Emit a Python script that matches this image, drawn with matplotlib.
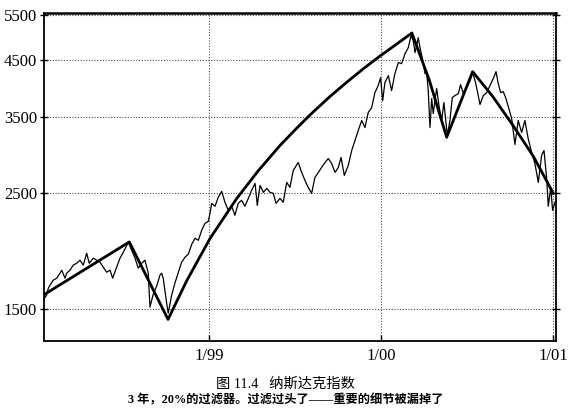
import matplotlib
matplotlib.use("Agg")
from matplotlib import pyplot as plt
from matplotlib.ticker import NullLocator, FixedLocator, FixedFormatter


# Nasdaq index, x in decimal years
index_years = [
    1998.041, 1998.053, 1998.063, 1998.073, 1998.092, 1998.112, 1998.131, 1998.141,
    1998.160, 1998.170, 1998.189, 1998.208, 1998.228, 1998.247, 1998.266, 1998.286,
    1998.301, 1998.324, 1998.344, 1998.363, 1998.383, 1998.402, 1998.422, 1998.437,
    1998.460, 1998.480, 1998.499, 1998.528, 1998.548, 1998.567, 1998.586, 1998.606,
    1998.625, 1998.644, 1998.654, 1998.673, 1998.693, 1998.712, 1998.722, 1998.731,
    1998.751, 1998.760, 1998.780, 1998.799, 1998.819, 1998.838, 1998.858, 1998.877,
    1998.897, 1998.916, 1998.935, 1998.955, 1998.974, 1998.993, 1999.003, 1999.013,
    1999.032, 1999.051, 1999.071, 1999.090, 1999.109, 1999.129, 1999.148, 1999.167,
    1999.187, 1999.206, 1999.226, 1999.245, 1999.265, 1999.278, 1999.294, 1999.313,
    1999.333, 1999.352, 1999.371, 1999.387, 1999.410, 1999.429, 1999.449, 1999.468,
    1999.487, 1999.516, 1999.536, 1999.555, 1999.574, 1999.594, 1999.613, 1999.633,
    1999.652, 1999.672, 1999.691, 1999.710, 1999.730, 1999.749, 1999.765, 1999.784,
    1999.807, 1999.827, 1999.846, 1999.865, 1999.885, 1999.904, 1999.923, 1999.943,
    1999.962, 1999.981, 1999.995, 2000.007, 2000.020, 2000.040, 2000.059, 2000.078,
    2000.098, 2000.117, 2000.137, 2000.156, 2000.172, 2000.185, 2000.195, 2000.214,
    2000.224, 2000.243, 2000.253, 2000.263, 2000.272, 2000.282, 2000.292, 2000.301,
    2000.321, 2000.336, 2000.350, 2000.363, 2000.383, 2000.398, 2000.412, 2000.427,
    2000.447, 2000.460, 2000.476, 2000.495, 2000.515, 2000.530, 2000.544, 2000.557,
    2000.573, 2000.592, 2000.612, 2000.631, 2000.650, 2000.666, 2000.679, 2000.693,
    2000.708, 2000.724, 2000.737, 2000.757, 2000.776, 2000.795, 2000.815, 2000.834,
    2000.853, 2000.873, 2000.892, 2000.912, 2000.931, 2000.945, 2000.960, 2000.970,
    2000.984, 2000.995, 2001.009,
]
index_values = [
    1571, 1592, 1642, 1664, 1701, 1716, 1754, 1778,
    1716, 1754, 1778, 1818, 1833, 1858, 1818, 1916,
    1833, 1875, 1858, 1842, 1801, 1762, 1778, 1716,
    1801, 1875, 1925, 2011, 1941, 1875, 1794, 1833,
    1858, 1754, 1510, 1599, 1657, 1739, 1754, 1716,
    1537, 1470, 1592, 1679, 1762, 1842, 1883, 1908,
    1994, 2047, 2029, 2121, 2187, 2206, 2286, 2389,
    2358, 2453, 2519, 2400, 2316, 2358, 2266, 2389,
    2421, 2358, 2442, 2530, 2609, 2368, 2586, 2508,
    2552, 2508, 2497, 2389, 2442, 2400, 2621, 2564,
    2763, 2862, 2739, 2644, 2564, 2497, 2679, 2739,
    2800, 2862, 2913, 2850, 2739, 2800, 2926, 2703,
    2825, 3018, 3154, 3297, 3445, 3340, 3569, 3648,
    3898, 4020, 4165, 3763, 4074, 4202, 3933, 4239,
    4450, 4430, 4630, 4754, 5013, 4903, 4650, 4968,
    4754, 4450, 4239, 4258, 3933, 3340, 3796, 3553,
    3968, 3648, 3445, 3730, 3225, 3445, 3813, 3847,
    3881, 4038, 3881, 3985, 4110, 4258, 4110, 3933,
    3697, 3847, 3898, 4020, 4147, 4276, 4056, 3898,
    3915, 3796, 3665, 3476, 3099, 3445, 3268, 3445,
    3182, 2992, 2850, 2621, 2952, 3018, 2679, 2358,
    2564, 2316, 2400,
]

# 20% filter line (turning points plus points read along the curved parts)
filter_years = [
    1998.040, 1998.534, 1998.759, 1998.867, 1999.003, 1999.158, 1999.284,
    1999.410, 1999.507, 1999.584, 1999.700, 1999.798, 1999.894, 1999.991,
    2000.088, 2000.177, 2000.279, 2000.379, 2000.530, 2000.647, 2000.765,
    2000.882, 2000.999,
]
filter_values = [
    1597, 2014, 1430, 1695, 2045, 2440, 2760,
    3085, 3330, 3530, 3830, 4080, 4330, 4580,
    4830, 5073, 4110, 3200, 4276, 3832, 3370,
    2945, 2497,
]

y_ticks = [1500, 2500, 3500, 4500, 5500]
x_ticks = [1999, 2000, 2001]
x_labels = ['1/99', '1/00', '1/01']

title = '图 11.4   纳斯达克指数'
subtitle = '3 年，20%的过滤器。过滤过头了——重要的细节被漏掉了'

serif = ['Liberation Serif', 'Noto Sans CJK SC', 'DejaVu Sans']

fig = plt.figure(figsize=(5.74, 4.11), dpi=100)
ax = fig.add_axes([0.0767, 0.1691, 0.8920, 0.7981])

ax.plot(index_years, index_values, color='black', lw=0.9)
ax.plot(filter_years, filter_values, color='black', lw=2.0,
        solid_joinstyle='round')

ax.set_yscale('log')
ax.set_xlim(1998.038, 2001.015)
ax.set_ylim(1297, 5530)

ax.yaxis.set_major_locator(FixedLocator(y_ticks))
ax.yaxis.set_major_formatter(FixedFormatter([str(v) for v in y_ticks]))
ax.yaxis.set_minor_locator(NullLocator())
ax.set_xticks(x_ticks)
ax.set_xticklabels(x_labels)

ax.grid(True, color='0.3', linestyle=(0, (1, 1.5)), lw=0.8)

for lab in ax.get_xticklabels() + ax.get_yticklabels():
    lab.set_family(serif)
    lab.set_fontsize(12)

ax.tick_params(axis='y', direction='inout', length=6, width=1,
               left=True, right=True, pad=2)
ax.tick_params(axis='x', direction='in', length=4, width=1, pad=5)

for s in ax.spines.values():
    s.set_linewidth(1.3)
ax.spines['top'].set_linewidth(1.8)

fig.text(0.4974, 0.0664, title, ha='center', va='center',
         family=serif, fontsize=10.3)
fig.text(0.498, 0.0268, subtitle, ha='center', va='center',
         family=serif, fontsize=8.8, fontweight='bold')

fig.savefig('out.png', dpi=100)
